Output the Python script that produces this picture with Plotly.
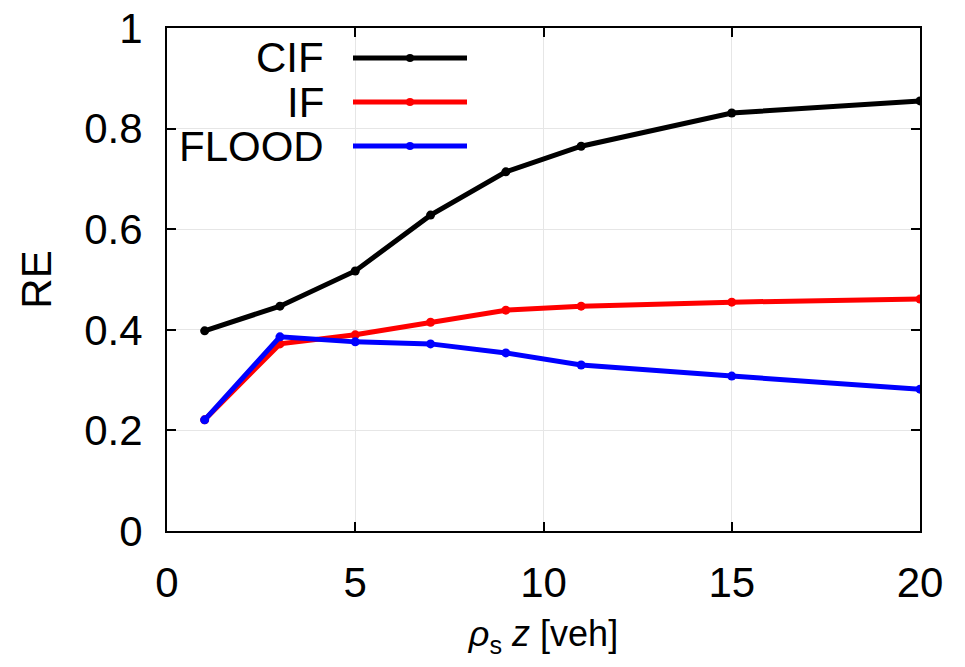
import plotly.graph_objects as go

x_vals = [1, 3, 5, 7, 9, 11, 15, 20]
cif = [0.398, 0.447, 0.517, 0.628, 0.714, 0.765, 0.831, 0.855]
if_vals = [0.221, 0.372, 0.390, 0.415, 0.439, 0.447, 0.455, 0.461]
flood = [0.221, 0.386, 0.376, 0.372, 0.354, 0.330, 0.308, 0.282]

series = [("CIF", cif, "#000000"), ("IF", if_vals, "#ff0000"), ("FLOOD", flood, "#0000ff")]

x_ticks = [0, 5, 10, 15, 20]
y_ticks = [0, 0.2, 0.4, 0.6, 0.8, 1]
y_tick_labels = ["0", "0.2", "0.4", "0.6", "0.8", "1"]

FONT = "Liberation Sans, Arial, Helvetica, sans-serif"
FS = 42

fig = go.Figure()
for name, vals, col in series:
    fig.add_trace(go.Scatter(x=x_vals, y=vals, mode="lines+markers", name=name,
                             line=dict(color=col, width=5),
                             marker=dict(color=col, size=9),
                             showlegend=False))

# page body has an 8px margin: compensate so the plot box lands at screen px 167..920 x 28..531
OFF = 8
W, H = 965 - 2 * OFF, 667 - 2 * OFF
ml, mt = 167 - OFF, 28 - OFF
pw, ph = 920 - 167, 531 - 28
mr, mb = W - ml - pw, H - mt - ph

def px(xs):
    return (xs - OFF - ml) / pw
def py(ys):
    return 1 - (ys - OFF - mt) / ph

leg_y = [58, 102, 146]
for (name, vals, col), yy in zip(series, leg_y):
    fig.add_annotation(xref="paper", yref="paper", x=px(326), y=py(yy), text=name,
                       showarrow=False, xanchor="right", yanchor="middle",
                       font=dict(family=FONT, size=FS, color="black"))
    fig.add_shape(type="line", xref="paper", yref="paper", x0=px(353), x1=px(467),
                  y0=py(yy), y1=py(yy), line=dict(color=col, width=5))
    fig.add_shape(type="circle", xref="paper", yref="paper",
                  x0=px(406), x1=px(414), y0=py(yy + 4), y1=py(yy - 4),
                  fillcolor=col, line=dict(color=col, width=0))

axis_common = dict(showline=True, linecolor="black", linewidth=2, mirror="ticks",
                   ticks="inside", ticklen=9, tickcolor="black", tickwidth=1.5,
                   showgrid=True, gridcolor="#e6e6e6", gridwidth=1, zeroline=False,
                   automargin=False, ticklabeloverflow="allow",
                   tickfont=dict(family=FONT, size=FS, color="black"))

fig.update_xaxes(range=[0, 20], tickvals=x_ticks, ticklabelstandoff=14,
                 title=dict(text="<i>ρ</i><sub>s</sub> <i>z</i> [veh]",
                            font=dict(family=FONT, size=36, color="black"), standoff=16),
                 **axis_common)
fig.update_yaxes(range=[0, 1], tickvals=y_ticks, ticktext=y_tick_labels, ticklabelstandoff=14,
                 title=dict(text="RE", font=dict(family=FONT, size=FS, color="black"), standoff=20),
                 **axis_common)

fig.update_layout(width=W, height=H, margin=dict(l=ml, r=mr, t=mt, b=mb, autoexpand=False),
                  plot_bgcolor="white", paper_bgcolor="white", showlegend=False)

fig.write_html("out.html")
